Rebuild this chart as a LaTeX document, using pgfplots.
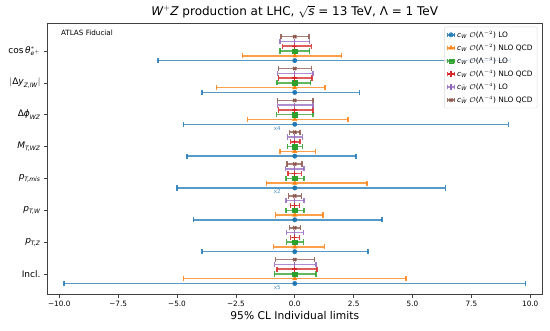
\documentclass[border=0pt]{standalone}
\usepackage{pgfplots}
\pgfplotsset{compat=1.18}
\usepackage{amsmath}
\usepackage{fontspec}
\setmainfont{DejaVu Sans}
\newcommand{\mi}[1]{\textit{#1}}
% matplotlib tab colours
\definecolor{c0}{HTML}{1F77B4}
\definecolor{c1}{HTML}{FF7F0E}
\definecolor{c2}{HTML}{2CA02C}
\definecolor{c3}{HTML}{D62728}
\definecolor{c4}{HTML}{9467BD}
\definecolor{c5}{HTML}{8C564B}

\begin{document}
\begin{tikzpicture}
\begin{axis}[
    scale only axis,
    width=494.5pt, height=271pt,
    xmin=-10.5, xmax=10.5, ymin=-0.63, ymax=7.88,
    xtick={-10,-7.5,-5,-2.5,0,2.5,5,7.5,10},
    xticklabels={−10.0,−7.5,−5.0,−2.5,0.0,2.5,5.0,7.5,10.0},
    ytick={0,1,2,3,4,5,6,7},
    yticklabels={Incl.,
        {$\mi{p}_{\mi{T,Z}}$},
        {$\mi{p}_{\mi{T,W}}$},
        {$\mi{p}_{\mi{T,mis}}$},
        {$\mi{M}_{\mi{T,WZ}}$},
        {$\text{Δ}\mi{ϕ}_{\mi{WZ}}$},
        {$|\text{Δ}\mi{y}_{\mi{Z,lW}}|$},
        {$\text{cos}\,\mi{θ}^{*}_{\mi{e}^{+}}$}},
    tick align=outside, tick pos=left,
    major tick length=3.5pt,
    x tick label style={font=\fontsize{7.3}{8}\selectfont},
    y tick label style={font=\fontsize{9}{10}\selectfont},
    axis line style={line width=0.6pt, black!75},
    every tick/.style={black!75, line width=0.6pt},
    xlabel={95\% CL Individual limits},
    xlabel style={font=\fontsize{10.7}{12}\selectfont, yshift=2pt},
    title={$\mi{W}^{+}\mi{Z}$ production at LHC, $\sqrt{\mi{s}}$ = 13 TeV, Λ = 1 TeV},
    title style={font=\fontsize{12}{13}\selectfont, at={(0.5,1)}, anchor=base, yshift=1.2pt, inner sep=0pt},
    error bars/x dir=both,
    error bars/x explicit,
    error bars/error mark=|,
    error bars/error bar style={line width=1.5pt, opacity=0.75},
    error bars/error mark options={line width=1.4pt, mark size=2.6pt, opacity=0.85},
    legend cell align=left,
    legend style={at={(rel axis cs:1,1)}, anchor=north east,
        xshift=-4.7pt, yshift=-3.7pt,
        draw=black!15, rounded corners=2pt, fill=white,
        fill opacity=0.8, text opacity=1,
        font=\fontsize{7.4}{8}\selectfont, row sep=1.2pt,
        inner xsep=2.5pt, inner ysep=2pt},
    legend image code/.code={
        \draw[#1, line width=1.4pt, opacity=0.75] (0pt,0pt) -- (7pt,0pt);
        \draw[#1, line width=1.2pt, opacity=0.85] (0pt,-2pt) -- (0pt,2pt) (7pt,-2pt) -- (7pt,2pt);
        \draw[#1] plot coordinates {(3.5pt,0pt)};
    },
]
\coordinate (sw) at (rel axis cs:0,0);
\coordinate (ne) at (rel axis cs:1,1);

\addplot[c0, only marks, mark=*, mark size=2.2pt] coordinates {
    (0,-0.3) += (9.8,0) -= (9.8,0)
    (0,0.7) += (3.11,0) -= (3.94,0)
    (0,1.7) += (3.7,0) -= (4.3,0)
    (0,2.7) += (6.4,0) -= (5.0,0)
    (0,3.7) += (2.6,0) -= (4.58,0)
    (0,4.7) += (9.07,0) -= (4.73,0)
    (0,5.7) += (2.74,0) -= (3.94,0)
    (0,6.7) += (9.15,0) -= (5.8,0)
};
\addlegendentry{$\mi{c}_{\mi{W}}$ $\mathcal{O}$(Λ$^{-2}$) LO}

\addplot[c1, only marks, mark=triangle*, mark size=2.5pt] coordinates {
    (0,-0.15) += (4.72,0) -= (4.73,0)
    (0,0.85) += (1.26,0) -= (0.9,0)
    (0,1.85) += (1.2,0) -= (0.81,0)
    (0,2.85) += (3.06,0) -= (1.2,0)
    (0,3.85) += (0.87,0) -= (0.63,0)
    (0,4.85) += (2.26,0) -= (2.0,0)
    (0,5.85) += (1.28,0) -= (3.33,0)
    (0,6.85) += (1.99,0) -= (2.23,0)
};
\addlegendentry{$\mi{c}_{\mi{W}}$ $\mathcal{O}$(Λ$^{-2}$) NLO QCD}

\addplot[c2, only marks, mark=square*, mark size=2.2pt] coordinates {
    (0,0) += (0.90,0) -= (0.87,0)
    (0,1) += (0.37,0) -= (0.35,0)
    (0,2) += (0.39,0) -= (0.38,0)
    (0,3) += (0.39,0) -= (0.38,0)
    (0,4) += (0.32,0) -= (0.32,0)
    (0,5) += (0.77,0) -= (0.77,0)
    (0,6) += (0.67,0) -= (0.76,0)
    (0,7) += (0.63,0) -= (0.63,0)
};
\addlegendentry{$\mi{c}_{\mi{W}}$ $\mathcal{O}$(Λ$^{-4}$) LO}

\addplot[c3, only marks, mark=+, mark size=2.6pt, line width=1.4pt] coordinates {
    (0,0.15) += (0.94,0) -= (0.75,0)
    (0,1.15) += (0.21,0) -= (0.18,0)
    (0,2.15) += (0.21,0) -= (0.19,0)
    (0,3.15) += (0.28,0) -= (0.28,0)
    (0,4.15) += (0.23,0) -= (0.18,0)
    (0,5.15) += (0.77,0) -= (0.70,0)
    (0,6.15) += (0.73,0) -= (0.70,0)
    (0,7.15) += (0.70,0) -= (0.52,0)
};
\addlegendentry{$\mi{c}_{\mi{W}}$ $\mathcal{O}$(Λ$^{-4}$) NLO QCD}

\addplot[c4, only marks, mark=|, mark size=2.6pt, line width=1.4pt] coordinates {
    (0,0.3) += (0.90,0) -= (0.86,0)
    (0,1.3) += (0.37,0) -= (0.35,0)
    (0,2.3) += (0.39,0) -= (0.38,0)
    (0,3.3) += (0.40,0) -= (0.39,0)
    (0,4.3) += (0.32,0) -= (0.30,0)
    (0,5.3) += (0.77,0) -= (0.73,0)
    (0,6.3) += (0.77,0) -= (0.73,0)
    (0,7.3) += (0.63,0) -= (0.62,0)
};
\addlegendentry{$\mi{c}_{\smash{\tilde{\mi{W}}}}$ $\mathcal{O}$(Λ$^{-4}$) LO}

\addplot[c5, only marks, mark=x, mark size=2.2pt, line width=1.4pt] coordinates {
    (0,0.45) += (0.85,0) -= (0.81,0)
    (0,1.45) += (0.24,0) -= (0.22,0)
    (0,2.45) += (0.28,0) -= (0.26,0)
    (0,3.45) += (0.30,0) -= (0.33,0)
    (0,4.45) += (0.23,0) -= (0.22,0)
    (0,5.45) += (0.77,0) -= (0.74,0)
    (0,6.45) += (0.70,0) -= (0.70,0)
    (0,7.45) += (0.60,0) -= (0.59,0)
};
\addlegendentry{$\mi{c}_{\smash{\tilde{\mi{W}}}}$ $\mathcal{O}$(Λ$^{-4}$) NLO QCD}

% scale factors of the LO Lambda^-2 limits
\node[font=\fontsize{5.5}{6}\selectfont, text=c0!80] at (axis cs:-0.74,4.58) {x4};
\node[font=\fontsize{5.5}{6}\selectfont, text=c0!80] at (axis cs:-0.74,2.58) {x2};
\node[font=\fontsize{5.5}{6}\selectfont, text=c0!80] at (axis cs:-0.74,-0.42) {x5};

\node[anchor=west, font=\fontsize{7.2}{8}\selectfont] at (rel axis cs:0,1) [xshift=10pt, yshift=-9.7pt] {ATLAS Fiducial};
\end{axis}
\pgfresetboundingbox
\path[use as bounding box] (sw) ++(-47.5pt,-36pt) rectangle ([shift={(8pt,23pt)}]ne);
\end{tikzpicture}
\end{document}
